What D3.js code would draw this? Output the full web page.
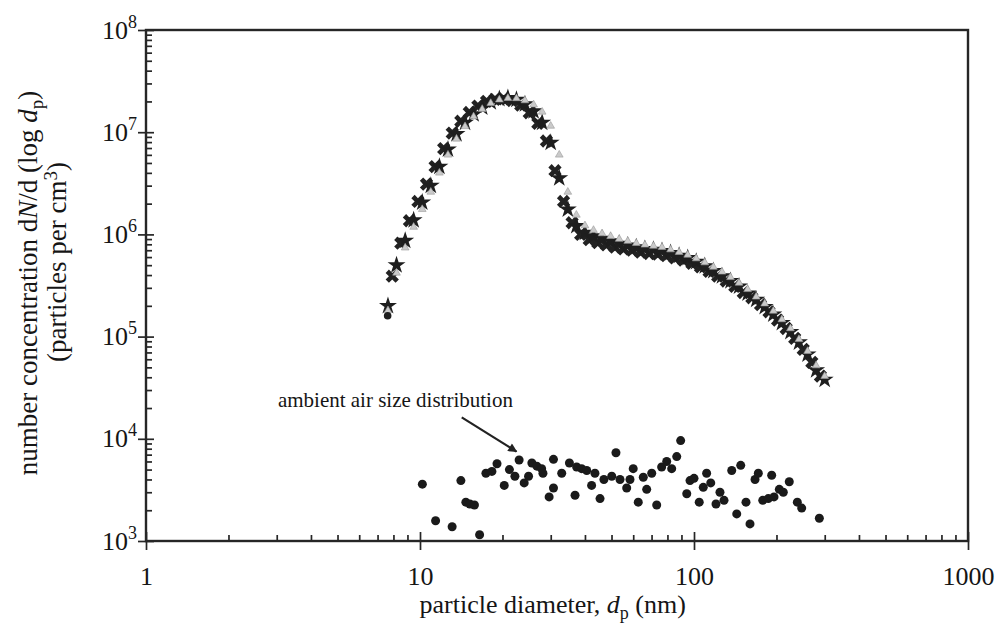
<!DOCTYPE html>
<html>
<head>
<meta charset="utf-8">
<script src="https://cdn.jsdelivr.net/npm/d3@7"></script>
<style>
  body { margin: 0; background: #fff; }
  text { font-family: "Liberation Serif", "Times New Roman", serif; fill: #151515; }
</style>
</head>
<body>
<div id="chart-area"></div>
<script>
// particle diameters (nm) of the two scan channel grids
const diamA = [7.64, 8.21, 8.83, 9.48, 10.19, 10.95, 11.77, 12.65, 13.59, 14.60, 15.69, 16.87, 18.12, 19.48,
  20.93, 22.49, 24.16, 25.97, 27.91, 29.99, 32.23, 34.63, 37.21, 39.99, 42.97, 46.18, 49.62, 53.33, 57.30,
  61.58, 66.17, 71.12, 76.42, 82.12, 88.24, 94.84, 101.9, 109.5, 117.7, 126.5, 135.9, 146.0, 156.9, 168.7,
  181.2, 194.8, 209.3, 224.9, 241.6, 259.7, 279.1, 299.9];
const diamB = [7.92, 8.51, 9.15, 9.83, 10.56, 11.35, 12.20, 13.11, 14.09, 15.13, 16.26, 17.49, 18.78, 20.19,
  21.70, 23.31, 25.04, 26.92, 28.93, 31.09, 33.41, 35.90, 38.57, 41.45, 44.54, 47.87, 51.44, 55.28, 59.40,
  63.83, 68.59, 73.72, 79.22, 85.13, 91.47, 98.31, 105.6, 113.5, 122.0, 131.1, 140.9, 151.3, 162.6, 174.9,
  187.8, 201.9, 217.0, 233.1, 250.4, 269.2, 289.3];

// dN/dlog dp (particles per cm3)
const run1 = [2.0e5, 5.0e5, 8.7e5, 1.38e6, 2.06e6, 3.0e6, 4.6e6, 6.8e6, 9.6e6, 1.24e7,
  1.50e7, 1.75e7, 1.97e7, 2.12e7, 2.16e7, 2.08e7, 1.88e7, 1.61e7, 1.24e7, 7.9e6,
  3.55e6, 1.76e6, 1.21e6, 1.04e6, 9.6e5, 9.1e5, 8.6e5, 8.1e5, 7.8e5, 7.5e5,
  7.2e5, 7.1e5, 6.9e5, 6.6e5, 6.2e5, 5.9e5, 5.4e5, 4.9e5, 4.4e5, 3.9e5,
  3.5e5, 3.1e5, 2.65e5, 2.3e5, 1.95e5, 1.65e5, 1.36e5, 1.11e5, 8.8e4, 6.7e4,
  4.7e4, 3.8e4];
const run2 = [3.9e5, 8.2e5, 1.36e6, 2.1e6, 3.1e6, 4.6e6, 6.9e6, 9.8e6, 1.28e7, 1.56e7,
  1.8e7, 2.0e7, 2.1e7, 2.12e7, 2.04e7, 1.84e7, 1.55e7, 1.22e7, 8.2e6, 4.2e6,
  2.1e6, 1.3e6, 1.0e6, 8.9e5, 8.3e5, 7.9e5, 7.5e5, 7.2e5, 7.0e5, 6.7e5,
  6.5e5, 6.4e5, 6.2e5, 5.9e5, 5.6e5, 5.2e5, 4.8e5, 4.35e5, 3.9e5, 3.5e5,
  3.1e5, 2.7e5, 2.4e5, 2.05e5, 1.75e5, 1.45e5, 1.2e5, 9.6e4, 7.5e4, 5.6e4,
  4.1e4];
const run3 = [1.8e5, 4.2e5, 7.4e5, 1.18e6, 1.76e6, 2.6e6, 4.0e6, 6.0e6, 8.6e6, 1.14e7,
  1.42e7, 1.68e7, 1.92e7, 2.08e7, 2.15e7, 2.14e7, 2.04e7, 1.86e7, 1.58e7, 1.15e7,
  6.0e6, 2.6e6, 1.55e6, 1.22e6, 1.1e6, 1.02e6, 9.6e5, 9.0e5, 8.6e5, 8.2e5,
  7.9e5, 7.7e5, 7.5e5, 7.1e5, 6.7e5, 6.3e5, 5.8e5, 5.3e5, 4.8e5, 4.3e5,
  3.8e5, 3.35e5, 2.9e5, 2.45e5, 2.1e5, 1.78e5, 1.47e5, 1.2e5, 9.4e4, 7.2e4,
  5.2e4, 4.1e4];
const startDiam = [7.62];
const startConc = [1.6e5];

// ambient air size distribution
const ambientDiam = [10.2, 11.4, 13.1, 14.1, 14.7, 15.2, 15.8, 16.5, 17.4, 18.3, 19.1, 20.3, 21.2, 22.2,
  23.0, 24.0, 24.9, 25.6, 26.7, 27.8, 28.1, 30.7, 30.7, 29.6, 32.9, 35.1, 36.8, 37.3, 38.9, 40.6, 42.3,
  43.5, 45.4, 46.9, 50.1, 51.9, 53.7, 56.8, 60.0, 58.4, 62.6, 65.3, 67.2, 70.1, 73.1, 76.2, 79.5, 82.9,
  86.5, 89.4, 94.1, 96.7, 100, 104.5, 108.1, 111.2, 115.1, 120.3, 124.4, 128.7, 137.3, 143.2, 148.1,
  154.8, 160.1, 167, 171.7, 178.2, 186.7, 195.9, 192.1, 204.8, 211.8, 222.7, 238.3, 247.2, 286.7];
const ambientConc = [3.6e3, 1.58e3, 1.38e3, 3.9e3, 2.4e3, 2.3e3, 2.25e3, 1.15e3, 4.6e3, 4.8e3, 5.7e3, 3.5e3,
  5.0e3, 4.3e3, 6.2e3, 3.7e3, 4.3e3, 5.8e3, 5.4e3, 5.1e3, 4.6e3, 6.3e3, 3.3e3, 2.7e3, 4.6e3, 5.8e3, 2.8e3,
  5.3e3, 5.1e3, 4.9e3, 3.5e3, 4.6e3, 2.6e3, 4.0e3, 4.3e3, 7.3e3, 4.0e3, 3.3e3, 5.1e3, 4.0e3, 2.4e3, 4.2e3,
  3.2e3, 4.6e3, 2.25e3, 5.3e3, 6.0e3, 5.1e3, 6.7e3, 9.6e3, 2.9e3, 3.9e3, 4.1e3, 2.4e3, 3.35e3, 4.6e3,
  3.7e3, 2.3e3, 3.0e3, 2.5e3, 4.9e3, 1.84e3, 5.5e3, 2.4e3, 1.47e3, 4.0e3, 4.6e3, 2.5e3, 2.6e3, 2.7e3,
  4.4e3, 3.2e3, 3.0e3, 3.8e3, 2.4e3, 2.1e3, 1.67e3];

// annotation: label anchor, arrow tail, arrow head (data coordinates)
const noteText = "ambient air size distribution";
const noteDiam = [3.03, 14.2, 22.5];
const noteConc = [2.05e4, 1.62e4, 7.5e3];

const xMajor = [1, 10, 100, 1000];
const yMajor = [1e3, 1e4, 1e5, 1e6, 1e7, 1e8];

// set margins, width, height
let margin = {top: 30, right: 28, bottom: 84, left: 146};
let width = 996 - margin.left - margin.right;
let height = 625 - margin.top - margin.bottom;

let svg = d3.select("#chart-area").append("svg")
    .attr("width", 996)
    .attr("height", 625);

let g = svg.append("g")
    .attr("transform", "translate(" + margin.left + "," + margin.top + ")");

let x = d3.scaleLog().domain([1, 1000]).range([0, width]);
let y = d3.scaleLog().domain([1e3, 1e8]).range([height, 0]);

const axisColor = "#262626";

// x axis: major ticks cross the line, minor ticks point up
let xMinor = x.ticks().filter(d => !xMajor.includes(d));
let xAxisMinor = g.append("g")
    .attr("transform", `translate(0,${height})`)
    .call(d3.axisBottom(x).tickValues(xMinor).tickSize(-6).tickFormat(""));
let xAxisMajor = g.append("g")
    .attr("transform", `translate(0,${height})`)
    .call(d3.axisBottom(x).tickValues(xMajor).tickSize(9).tickSizeOuter(0).tickFormat(d3.format("d")));
xAxisMajor.selectAll(".tick line").attr("y1", -9);
xAxisMajor.selectAll(".tick text")
    .attr("y", 26)
    .style("font-size", "26px")
    .style("font-family", "'Liberation Serif', serif")
    .attr("fill", "#151515");

// y axis: major ticks cross the line, minor ticks point right
let yMinor = y.ticks().filter(d => !yMajor.includes(d));
let yAxisMinor = g.append("g")
    .call(d3.axisLeft(y).tickValues(yMinor).tickSize(-6).tickFormat(""));
let yAxisMajor = g.append("g")
    .call(d3.axisLeft(y).tickValues(yMajor).tickSize(8).tickSizeOuter(0).tickFormat(""));
yAxisMajor.selectAll(".tick line").attr("x1", 8);

yAxisMajor.selectAll(".tick").append("text")
    .attr("x", -9)
    .attr("y", 8)
    .attr("text-anchor", "end")
    .style("font-family", "'Liberation Serif', serif")
    .style("font-size", "26px")
    .attr("fill", "#151515")
    .each(function(d) {
        let t = d3.select(this);
        t.append("tspan").text("10");
        t.append("tspan").attr("dy", -11).style("font-size", "18px").text(Math.round(Math.log10(d)));
    });

[xAxisMinor, xAxisMajor, yAxisMinor, yAxisMajor].forEach(a => {
    a.select(".domain").remove();
    a.selectAll(".tick line").attr("stroke", axisColor).attr("stroke-width", 1.7);
});

// plot frame
g.append("rect")
    .attr("x", 0).attr("y", 0)
    .attr("width", width).attr("height", height)
    .attr("fill", "none")
    .attr("stroke", axisColor)
    .attr("stroke-width", 2.4);

// scan data
let starSym = d3.symbol(d3.symbolStar, 100);
let crossSym = d3.symbol(d3.symbolCross, 110);
let triSym = d3.symbol(d3.symbolTriangle, 26);

g.selectAll(".run2")
    .data(d3.zip(diamB, run2))
    .join("path")
    .attr("class", "run2")
    .attr("d", crossSym)
    .attr("transform", d => `translate(${x(d[0])},${y(d[1])}) rotate(45)`)
    .style("fill", "#222");

g.selectAll(".run1")
    .data(d3.zip(diamA, run1))
    .join("path")
    .attr("class", "run1")
    .attr("d", starSym)
    .attr("transform", d => `translate(${x(d[0])},${y(d[1])})`)
    .style("fill", "#1e1e1e");

g.selectAll(".run3")
    .data(d3.zip(diamA, run3))
    .join("path")
    .attr("class", "run3")
    .attr("d", triSym)
    .attr("transform", d => `translate(${x(d[0])},${y(d[1])})`)
    .style("fill", "#cacaca")
    .style("stroke", "#9a9a9a")
    .style("stroke-width", 0.6);

g.selectAll(".start")
    .data(d3.zip(startDiam, startConc))
    .join("circle")
    .attr("class", "start")
    .attr("cx", d => x(d[0]))
    .attr("cy", d => y(d[1]))
    .attr("r", 3.8)
    .style("fill", "#1e1e1e");

// ambient points
g.selectAll(".ambient")
    .data(d3.zip(ambientDiam, ambientConc))
    .join("circle")
    .attr("class", "ambient")
    .attr("cx", d => x(d[0]))
    .attr("cy", d => y(d[1]))
    .attr("r", 4.5)
    .style("fill", "#1a1a1a");

// annotation with arrow
svg.append("defs").append("marker")
    .attr("id", "arrowhead")
    .attr("viewBox", "0 0 10 10")
    .attr("refX", 9).attr("refY", 5)
    .attr("markerWidth", 12).attr("markerHeight", 9)
    .attr("markerUnits", "userSpaceOnUse")
    .attr("orient", "auto")
    .append("path")
    .attr("d", "M0,0 L10,5 L0,10 z")
    .attr("fill", "#222");

g.append("text")
    .attr("x", x(noteDiam[0]))
    .attr("y", y(noteConc[0]))
    .style("font-size", "21px")
    .text(noteText);

g.append("line")
    .attr("x1", x(noteDiam[1])).attr("y1", y(noteConc[1]))
    .attr("x2", x(noteDiam[2])).attr("y2", y(noteConc[2]))
    .attr("stroke", "#222")
    .attr("stroke-width", 2.2)
    .attr("marker-end", "url(#arrowhead)");

// axis titles
let xTitle = svg.append("text")
    .attr("x", margin.left + x(30.5))
    .attr("y", 613)
    .attr("text-anchor", "middle")
    .style("font-size", "26px");
xTitle.append("tspan").text("particle diameter, ");
xTitle.append("tspan").style("font-style", "italic").text("d");
xTitle.append("tspan").attr("dy", 6).style("font-size", "18px").text("p");
xTitle.append("tspan").attr("dy", -6).text(" (nm)");

let yTitle1 = svg.append("text")
    .attr("transform", "translate(37,283) rotate(-90)")
    .attr("text-anchor", "middle")
    .style("font-size", "27px");
yTitle1.append("tspan").text("number concentration d");
yTitle1.append("tspan").style("font-style", "italic").text("N");
yTitle1.append("tspan").text("/d (log ");
yTitle1.append("tspan").style("font-style", "italic").text("d");
yTitle1.append("tspan").attr("dy", 6).style("font-size", "19px").text("p");
yTitle1.append("tspan").attr("dy", -6).text(")");

let yTitle2 = svg.append("text")
    .attr("transform", "translate(66,262) rotate(-90)")
    .attr("text-anchor", "middle")
    .style("font-size", "27px");
yTitle2.append("tspan").text("(particles per cm");
yTitle2.append("tspan").attr("dy", -9).style("font-size", "19px").text("3");
yTitle2.append("tspan").attr("dy", 9).text(")");
</script>
</body>
</html>
